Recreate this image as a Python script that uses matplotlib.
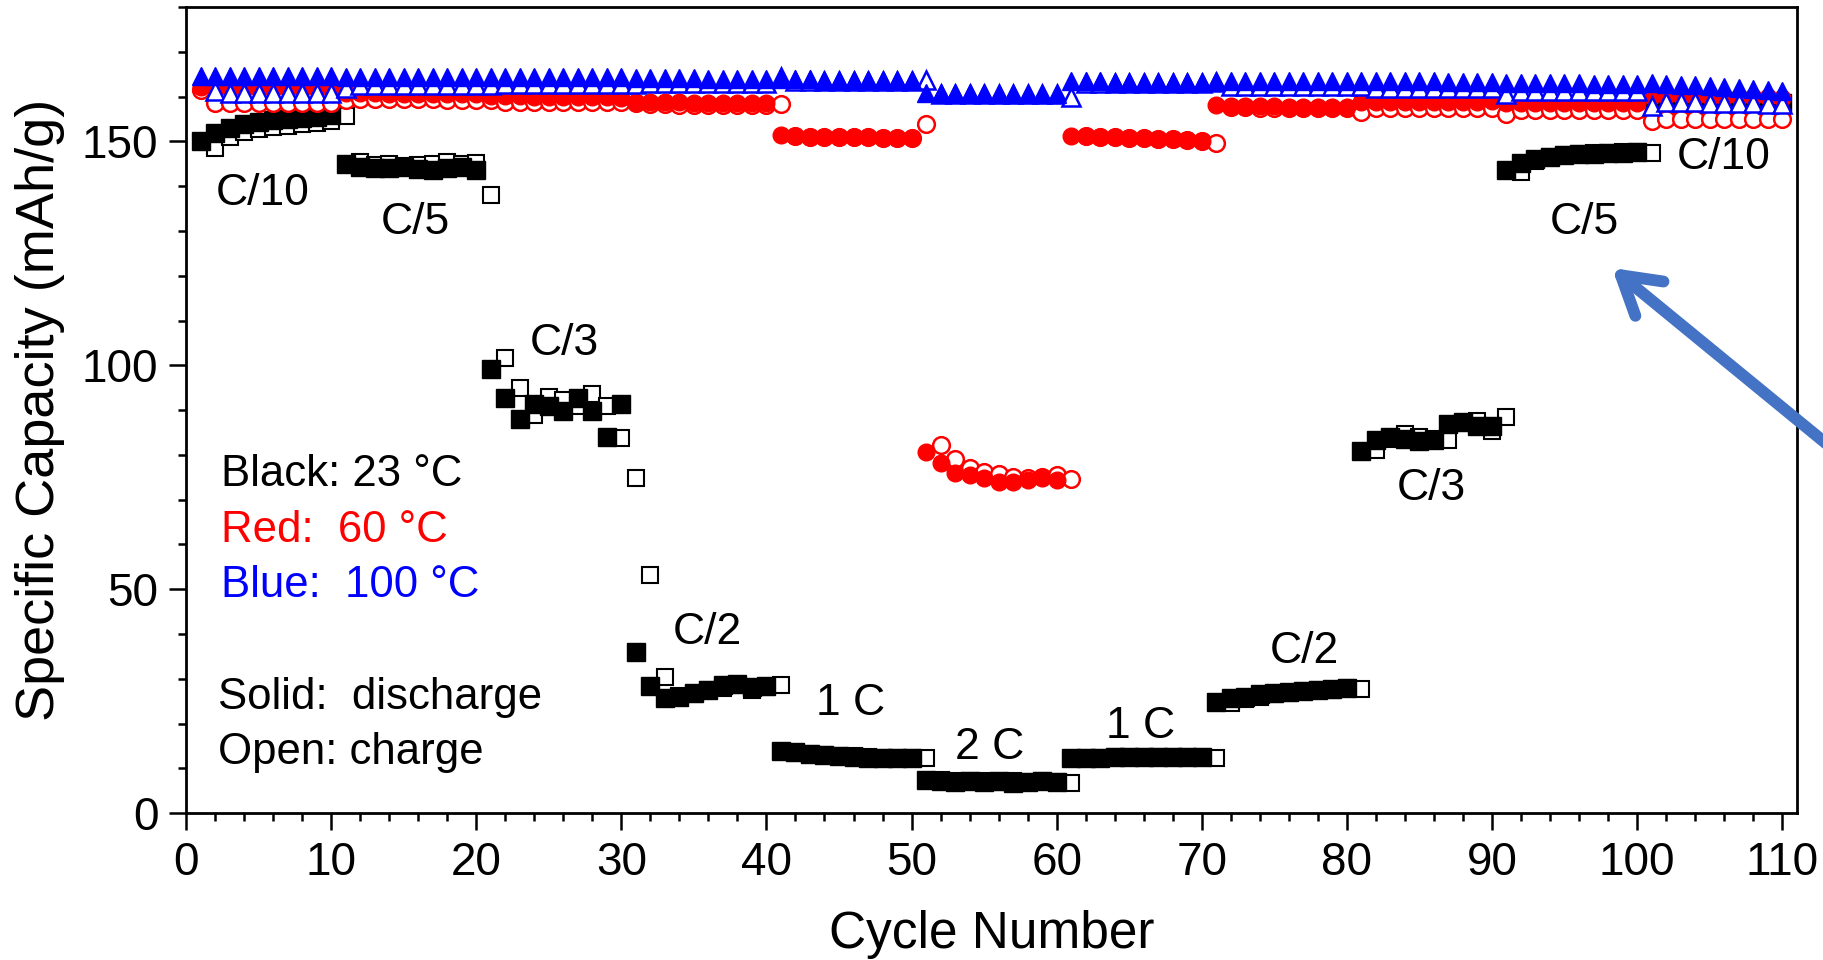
import numpy as np
import matplotlib.pyplot as plt
from matplotlib.ticker import MultipleLocator

plt.rcParams['font.family'] = ['Liberation Sans', 'DejaVu Sans']

# rate steps, 10 cycles each
rates = ['C/10', 'C/5', 'C/3', 'C/2', '1 C', '2 C', '1 C', 'C/2', 'C/3', 'C/5', 'C/10']

# ---- 23 C (black) ----
# discharge, cycles 1..110
black_dis = [150.2, 151.8, 153.0, 153.8, 154.4, 154.8, 155.0, 155.3, 155.5, 155.8,
             145.0, 144.2, 144.0, 144.1, 144.3, 143.9, 143.7, 144.0, 144.3, 143.6,
             99.1, 92.6, 88.1, 91.3, 91.0, 89.7, 92.8, 89.7, 84.0, 91.3,
             36.0, 28.4, 25.8, 25.9, 26.8, 27.5, 28.6, 28.9, 28.2, 28.5,
             13.9, 13.6, 13.2, 13.0, 12.8, 12.6, 12.4, 12.3, 12.3, 12.2,
             7.3, 7.2, 7.0, 7.2, 6.9, 7.1, 6.8, 7.0, 7.1, 7.0,
             12.3, 12.4, 12.3, 12.5, 12.6, 12.5, 12.6, 12.6, 12.5, 12.6,
             24.8, 25.6, 26.0, 26.6, 26.9, 27.1, 27.3, 27.6, 27.8, 28.0,
             80.8, 83.4, 84.0, 83.5, 83.2, 83.3, 87.0, 87.3, 86.5, 86.4,
             143.6, 145.2, 146.0, 146.5, 146.9, 147.1, 147.3, 147.4, 147.5, 147.6,
             157.5, 157.8, 158.0, 158.0, 158.2, 158.2, 158.3, 158.3, 158.4, 158.5]
# charge, plotted at cycles 2..110
black_chg = [148.6, 151.0, 152.2, 152.8, 153.2, 153.5, 154.0, 154.2, 154.6, 155.6,
             145.5, 144.8, 145.0, 144.6, 144.7, 145.0, 145.4, 144.9, 145.1, 138.0,
             101.6, 94.9, 88.8, 93.0, 92.2, 91.0, 93.5, 91.0, 83.8, 74.8,
             53.1, 30.3, 26.1, 26.5, 27.4, 28.0, 28.6, 27.6, 28.2, 28.7,
             13.5, 13.2, 13.0, 12.8, 12.7, 12.5, 12.4, 12.4, 12.3, 12.4,
             7.4, 7.2, 7.1, 7.2, 7.0, 7.1, 7.0, 7.1, 7.0, 6.8,
             12.4, 12.4, 12.5, 12.5, 12.6, 12.6, 12.6, 12.6, 12.5, 12.2,
             24.5, 25.4, 26.0, 26.5, 26.8, 27.2, 27.4, 27.6, 27.9, 27.7,
             81.0, 83.6, 84.6, 84.0, 83.6, 83.3, 87.2, 87.6, 85.3, 88.4,
             143.2, 145.6, 146.6, 147.0, 147.2, 147.4, 147.5, 147.6, 147.7, 147.4,
             157.0, 157.2, 157.4, 157.5, 157.6, 157.6, 157.7, 157.7, 157.8]

# ---- 60 C (red) ----
red_dis = [162.2, 161.8, 161.8, 161.8, 161.8, 161.7, 161.7, 161.7, 161.6, 161.6,
           160.9, 160.8, 160.8, 160.7, 160.7, 160.7, 160.6, 160.6, 160.6, 160.6,
           160.2, 160.1, 160.1, 160.0, 160.0, 160.0, 159.9, 159.9, 159.9, 159.8,
           158.9, 158.8, 158.7, 158.7, 158.6, 158.6, 158.6, 158.5, 158.5, 158.5,
           151.5, 151.2, 151.1, 151.0, 151.0, 150.9, 150.9, 150.8, 150.8, 150.8,
           80.6, 78.1, 75.9, 75.5, 74.8, 74.0, 74.0, 74.3, 74.9, 74.3,
           151.3, 151.2, 151.0, 150.9, 150.8, 150.7, 150.6, 150.5, 150.3, 150.1,
           158.2, 158.0, 158.0, 157.9, 157.9, 157.8, 157.8, 157.8, 157.8, 157.8,
           158.8, 158.8, 158.8, 158.9, 158.9, 158.9, 158.9, 158.9, 158.9, 159.0,
           158.5, 158.6, 158.6, 158.6, 158.6, 158.6, 158.6, 158.6, 158.6, 158.6,
           160.2, 160.1, 160.1, 160.0, 160.0, 160.0, 159.9, 159.9, 159.9, 159.8]
# charge, plotted at cycles 1..110
red_chg = [161.4,
           158.6, 158.5, 158.5, 158.5, 158.5, 158.5, 158.5, 158.5, 158.5, 159.2,
           159.5, 159.5, 159.4, 159.4, 159.4, 159.4, 159.3, 159.3, 159.3, 159.3,
           158.9, 158.9, 158.8, 158.8, 158.8, 158.8, 158.7, 158.7, 158.7, 158.6,
           158.3, 158.3, 158.2, 158.2, 158.2, 158.2, 158.1, 158.1, 158.1, 158.3,
           151.3, 151.1, 151.0, 151.0, 150.9, 150.9, 150.8, 150.8, 150.8, 153.9,
           82.1, 79.0, 77.0, 76.2, 75.7, 75.0, 74.8, 75.0, 75.5, 74.7,
           151.2, 151.0, 150.9, 150.8, 150.7, 150.6, 150.5, 150.4, 150.2, 149.6,
           157.6, 157.6, 157.5, 157.5, 157.5, 157.5, 157.4, 157.4, 157.4, 156.5,
           157.4, 157.4, 157.4, 157.4, 157.4, 157.4, 157.4, 157.4, 157.4, 156.2,
           157.0, 157.0, 157.0, 157.0, 157.0, 157.0, 157.0, 157.0, 157.0, 154.5,
           155.1, 155.1, 155.1, 155.1, 155.1, 155.1, 155.1, 155.1, 155.1]

# ---- 100 C (blue) ----
blue_dis = [164.6, 164.6, 164.6, 164.6, 164.6, 164.6, 164.6, 164.6, 164.6, 164.6,
            164.5, 164.5, 164.5, 164.5, 164.5, 164.5, 164.5, 164.5, 164.5, 164.5,
            164.3, 164.3, 164.3, 164.3, 164.3, 164.3, 164.3, 164.3, 164.3, 164.3,
            164.1, 164.1, 164.1, 164.1, 164.1, 164.0, 164.0, 164.0, 164.0, 164.0,
            163.9, 163.9, 163.9, 163.8, 163.8, 163.8, 163.8, 163.8, 163.7, 163.7,
            160.9, 160.8, 160.8, 160.8, 160.8, 160.7, 160.7, 160.7, 160.7, 160.6,
            163.4, 163.4, 163.4, 163.3, 163.3, 163.3, 163.3, 163.3, 163.2, 163.2,
            163.6, 163.6, 163.6, 163.6, 163.6, 163.5, 163.5, 163.5, 163.5, 163.5,
            163.4, 163.4, 163.4, 163.4, 163.4, 163.4, 163.3, 163.3, 163.3, 163.3,
            163.1, 163.1, 163.0, 163.0, 163.0, 163.0, 162.9, 162.9, 162.9, 162.9,
            163.1, 162.9, 162.7, 162.5, 162.3, 162.1, 161.9, 161.6, 161.4, 161.2]
# charge, plotted at cycles 2..110
blue_chg = [161.3, 160.8, 160.8, 160.8, 160.8, 160.8, 160.8, 160.8, 160.8, 162.0,
            162.6, 162.6, 162.6, 162.6, 162.6, 162.6, 162.6, 162.6, 162.6, 162.6,
            162.8, 162.8, 162.8, 162.8, 162.8, 162.8, 162.8, 162.8, 162.8, 162.8,
            163.0, 163.0, 163.0, 163.0, 163.0, 163.0, 163.0, 163.0, 163.0, 164.3,
            163.6, 163.6, 163.6, 163.6, 163.6, 163.6, 163.6, 163.6, 163.6, 163.8,
            160.5, 160.5, 160.5, 160.5, 160.5, 160.5, 160.5, 160.5, 160.5, 159.9,
            163.0, 163.0, 163.0, 163.0, 163.0, 163.0, 163.0, 163.0, 163.0, 163.3,
            162.4, 162.4, 162.4, 162.4, 162.4, 162.4, 162.4, 162.4, 162.4, 162.3,
            161.9, 161.9, 161.9, 161.9, 161.9, 161.9, 161.9, 161.9, 161.9, 160.7,
            161.2, 161.2, 161.2, 161.2, 161.2, 161.2, 161.2, 161.2, 161.2, 158.0,
            158.8, 158.7, 158.7, 158.6, 158.6, 158.5, 158.5, 158.4, 158.4]

cyc_dis = np.arange(1, 111)
cyc_chg2 = np.arange(2, 111)
cyc_chg1 = np.arange(1, 111)

# label positions (cycle, capacity)
rate_x = [5.3, 15.8, 26.1, 35.9, 45.8, 55.4, 65.8, 77.1, 85.8, 96.4, 106.0]
rate_y = [138.3, 132.0, 104.9, 40.4, 24.5, 14.6, 19.3, 36.0, 72.5, 132.0, 146.4]

fig = plt.figure(figsize=(18.24, 9.6), dpi=100)
ax = fig.add_axes([0.102, 0.153, 0.883, 0.8396])

ms = 12.5
ax.plot(cyc_chg2, black_chg, 's', ms=ms - 1, mfc='white', mec='black', mew=1.5)
ax.plot(cyc_dis, black_dis, 's', ms=ms, mfc='black', mec='black', mew=1)
ax.plot(cyc_chg1, red_chg, 'o', ms=ms - 0.5, mfc='white', mec='red', mew=1.8)
ax.plot(cyc_dis, red_dis, 'o', ms=ms - 0.5, mfc='red', mec='red', mew=1)
ax.plot(cyc_chg2, blue_chg, '^', ms=ms, mfc='white', mec='blue', mew=1.8)
ax.plot(cyc_dis, blue_dis, '^', ms=ms, mfc='blue', mec='blue', mew=1)

for r, x, y in zip(rates, rate_x, rate_y):
    ax.text(x, y, r, fontsize=32, ha='center', va='center')

# legend-like notes
ax.text(2.4, 75.7, 'Black: 23 \u00b0C', fontsize=31.5, va='center', color='black')
ax.text(2.4, 63.1, 'Red:  60 \u00b0C', fontsize=31.5, va='center', color='red')
ax.text(2.4, 50.9, 'Blue:  100 \u00b0C', fontsize=31.5, va='center', color='blue')
ax.text(2.2, 25.8, 'Solid:  discharge', fontsize=31.5, va='center')
ax.text(2.2, 13.6, 'Open: charge', fontsize=31.5, va='center')

ax.set_xlim(0, 111)
ax.set_ylim(0, 180)
ax.xaxis.set_major_locator(MultipleLocator(10))
ax.xaxis.set_minor_locator(MultipleLocator(2))
ax.yaxis.set_major_locator(MultipleLocator(50))
ax.yaxis.set_minor_locator(MultipleLocator(10))
ax.tick_params(which='both', direction='out', width=1.8, labelsize=33, top=False, right=False)
ax.tick_params(which='major', length=12, pad=8)
ax.tick_params(which='minor', length=6)
for s in ax.spines.values():
    s.set_linewidth(2)

ax.set_xlabel('Cycle Number', fontsize=37, labelpad=18)
ax.set_ylabel('Specific Capacity (mAh/g)', fontsize=39, labelpad=12)

# blue arrow pointing into the plot from the right edge
ax.annotate('', xy=(1612, 960 - 268), xycoords='figure pixels',
            xytext=(1900, 960 - 504), textcoords='figure pixels',
            arrowprops=dict(arrowstyle='->,head_length=0.7,head_width=0.42', lw=8.5,
                            color='#4472C4', mutation_scale=38, shrinkA=0, shrinkB=0,
                            capstyle='round', joinstyle='round'),
            annotation_clip=False)

fig.savefig('out.png', dpi=100)
